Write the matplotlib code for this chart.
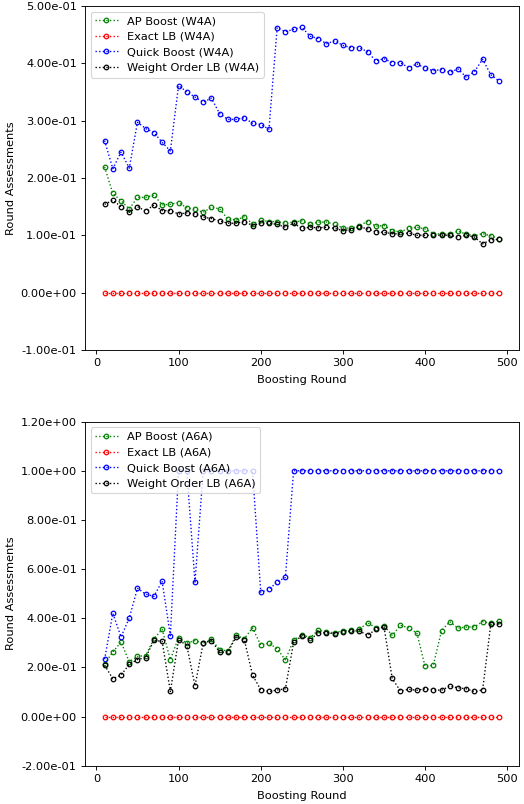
import numpy as np
import matplotlib
matplotlib.use("Agg")
from matplotlib import pyplot as plt
from matplotlib.ticker import FormatStrFormatter, MultipleLocator

rounds = list(range(10, 500, 10))

# W4A
ap_w4a = [0.219, 0.173, 0.160, 0.146, 0.166, 0.166, 0.170, 0.153, 0.154, 0.157,
          0.148, 0.145, 0.140, 0.149, 0.146, 0.128, 0.127, 0.132, 0.120, 0.126,
          0.124, 0.124, 0.121, 0.123, 0.125, 0.120, 0.123, 0.123, 0.119, 0.113,
          0.112, 0.117, 0.124, 0.116, 0.117, 0.108, 0.106, 0.112, 0.114, 0.111,
          0.103, 0.102, 0.102, 0.107, 0.102, 0.099, 0.103, 0.099, 0.094]
exact_w4a = [0.0] * 49
quick_w4a = [0.265, 0.216, 0.245, 0.217, 0.297, 0.286, 0.279, 0.262, 0.247, 0.361,
             0.350, 0.341, 0.332, 0.339, 0.312, 0.302, 0.302, 0.305, 0.295, 0.293,
             0.285, 0.462, 0.455, 0.459, 0.463, 0.447, 0.443, 0.434, 0.439, 0.431,
             0.427, 0.427, 0.420, 0.404, 0.408, 0.401, 0.401, 0.392, 0.399, 0.391,
             0.387, 0.389, 0.384, 0.390, 0.376, 0.385, 0.407, 0.380, 0.369]
wo_w4a = [0.154, 0.161, 0.150, 0.140, 0.150, 0.142, 0.153, 0.143, 0.143, 0.137,
          0.139, 0.137, 0.132, 0.129, 0.125, 0.121, 0.121, 0.124, 0.117, 0.121,
          0.121, 0.119, 0.114, 0.121, 0.112, 0.114, 0.113, 0.114, 0.112, 0.108,
          0.110, 0.115, 0.111, 0.106, 0.105, 0.103, 0.102, 0.104, 0.100, 0.100,
          0.100, 0.100, 0.100, 0.097, 0.100, 0.097, 0.085, 0.092, 0.093]

# A6A
ap_a6a = [0.215, 0.263, 0.303, 0.223, 0.245, 0.248, 0.316, 0.355, 0.232, 0.321,
          0.299, 0.309, 0.299, 0.314, 0.272, 0.267, 0.330, 0.317, 0.361, 0.291,
          0.299, 0.275, 0.231, 0.310, 0.333, 0.321, 0.351, 0.345, 0.341, 0.349,
          0.351, 0.355, 0.382, 0.361, 0.370, 0.330, 0.371, 0.361, 0.340, 0.204,
          0.209, 0.349, 0.386, 0.360, 0.364, 0.365, 0.386, 0.380, 0.388]
exact_a6a = [0.0] * 49
quick_a6a = [0.233, 0.420, 0.324, 0.401, 0.522, 0.498, 0.489, 0.551, 0.329, 1.0,
             1.0, 0.547, 1.0, 1.0, 1.0, 1.0, 1.0, 1.0, 1.0, 0.506,
             0.517, 0.548, 0.566, 1.0, 1.0, 1.0, 1.0, 1.0, 1.0, 1.0,
             1.0, 1.0, 1.0, 1.0, 1.0, 1.0, 1.0, 1.0, 1.0, 1.0,
             1.0, 1.0, 1.0, 1.0, 1.0, 1.0, 1.0, 1.0, 1.0]
wo_a6a = [0.209, 0.154, 0.169, 0.212, 0.232, 0.240, 0.310, 0.306, 0.102, 0.313,
          0.289, 0.125, 0.299, 0.309, 0.262, 0.262, 0.324, 0.313, 0.169, 0.109,
          0.102, 0.108, 0.113, 0.302, 0.328, 0.313, 0.340, 0.341, 0.337, 0.344,
          0.347, 0.349, 0.330, 0.355, 0.365, 0.155, 0.104, 0.111, 0.107, 0.113,
          0.109, 0.107, 0.124, 0.117, 0.113, 0.102, 0.108, 0.376, 0.376]

fig = plt.figure(figsize=(6.4, 9.82), dpi=81.875)
ax1 = fig.add_axes([0.162, 0.5647, 0.828, 0.428])
ax2 = fig.add_axes([0.162, 0.0476, 0.828, 0.428])


def draw(ax, series, tag, ylim, step):
    for vals, name, c in zip(series, ["AP Boost", "Exact LB", "Quick Boost", "Weight Order LB"],
                             ["g", "r", "b", "k"]):
        ax.plot(rounds, vals, ":", color=c, marker="o", markersize=4,
                mfc="none", mew=1.1, lw=1.2, label="{} ({})".format(name, tag))
    ax.set_ylim(*ylim)
    ax.yaxis.set_major_locator(MultipleLocator(step))
    ax.yaxis.set_major_formatter(FormatStrFormatter("%.2e"))
    ax.set_xlabel("Boosting Round", labelpad=6)
    ax.set_ylabel("Round Assessments")
    ax.legend(loc="upper left")


draw(ax1, [ap_w4a, exact_w4a, quick_w4a, wo_w4a], "W4A", (-0.1, 0.5), 0.1)
draw(ax2, [ap_a6a, exact_a6a, quick_a6a, wo_a6a], "A6A", (-0.2, 1.2), 0.2)

fig.savefig("out.png", dpi=81.875)
